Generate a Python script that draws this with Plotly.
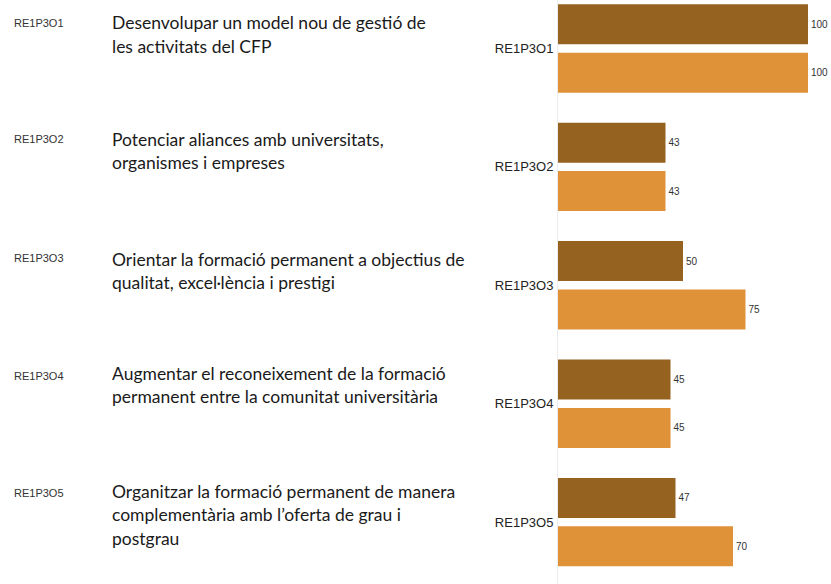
import plotly.graph_objects as go

# ---- data ----
codes = ["RE1P3O1", "RE1P3O2", "RE1P3O3", "RE1P3O4", "RE1P3O5"]
descriptions = [
    "Desenvolupar un model nou de gestió de\nles activitats del CFP",
    "Potenciar aliances amb universitats,\norganismes i empreses",
    "Orientar la formació permanent a objectius de\nqualitat, excel·lència i prestigi",
    "Augmentar el reconeixement de la formació\npermanent entre la comunitat universitària",
    "Organitzar la formació permanent de manera\ncomplementària amb l’oferta de grau i\npostgrau",
]
values_a = [100, 43, 50, 45, 47]
values_b = [100, 43, 75, 45, 70]

# ---- layout constants ----
W, H = 831, 584
L, R, T, B = 558, 0, 0, 0
PW, PH = W - L - R, H - T - B
first_center = 48.5
band = 118.4
px_per_unit = 2.5

y_top = -first_center / band
y_bot = (PH - first_center) / band
x_max = PW / px_per_unit

def px2paper_x(px):
    return (px - L) / PW

def px2paper_y(py):
    return 1 - (py - T) / PH

# first-line centres (pixels) of left text blocks
code_y = [22.5, 139, 257.5, 376, 492.5]
desc_y = [23, 139, 259, 373, 491]
line_step = 23.5

fig = go.Figure()
fig.add_trace(go.Bar(
    y=codes, x=values_a, orientation="h", name="A",
    marker=dict(color="#95621F", line=dict(width=0)),
    text=values_a, textposition="outside", constraintext="none",
    textfont=dict(family="Liberation Sans, Arial", size=10, color="#333333"),
    cliponaxis=False,
))
fig.add_trace(go.Bar(
    y=codes, x=values_b, orientation="h", name="B",
    marker=dict(color="#E09238", line=dict(width=0)),
    text=values_b, textposition="outside", constraintext="none",
    textfont=dict(family="Liberation Sans, Arial", size=10, color="#333333"),
    cliponaxis=False,
))

annotations = []
for i, (c, d) in enumerate(zip(codes, descriptions)):
    annotations.append(dict(
        xref="paper", yref="paper", x=px2paper_x(12), y=px2paper_y(code_y[i]),
        xanchor="left", yanchor="middle", text=c, showarrow=False,
        font=dict(family="Liberation Sans, Arial", size=11, color="#333333"),
    ))
    for j, line in enumerate(d.split("\n")):
        annotations.append(dict(
            xref="paper", yref="paper", x=px2paper_x(110),
            y=px2paper_y(desc_y[i] + j * line_step),
            xanchor="left", yanchor="middle", text=line, showarrow=False,
            font=dict(family="Lato", size=17.5, color="#1a1a1a"),
        ))

fig.update_layout(
    width=W, height=H,
    margin=dict(l=L, r=R, t=T, b=B, pad=0),
    paper_bgcolor="white", plot_bgcolor="white",
    barmode="group", bargap=0.1824, bargroupgap=0.1736,
    showlegend=False,
    annotations=annotations,
    xaxis=dict(range=[0, x_max], showgrid=False, zeroline=False,
               showticklabels=False, showline=False, ticks=""),
    yaxis=dict(range=[y_bot, y_top], showgrid=False, zeroline=False,
               showline=True, linecolor="#ececec", linewidth=1,
               ticks="", ticklabelstandoff=1,
               tickfont=dict(family="Liberation Sans, Arial", size=13, color="#222222")),
)

fig.write_html("out.html", config={"displayModeBar": False},
               post_script="document.body.style.margin='0';document.body.style.overflow='hidden';")
